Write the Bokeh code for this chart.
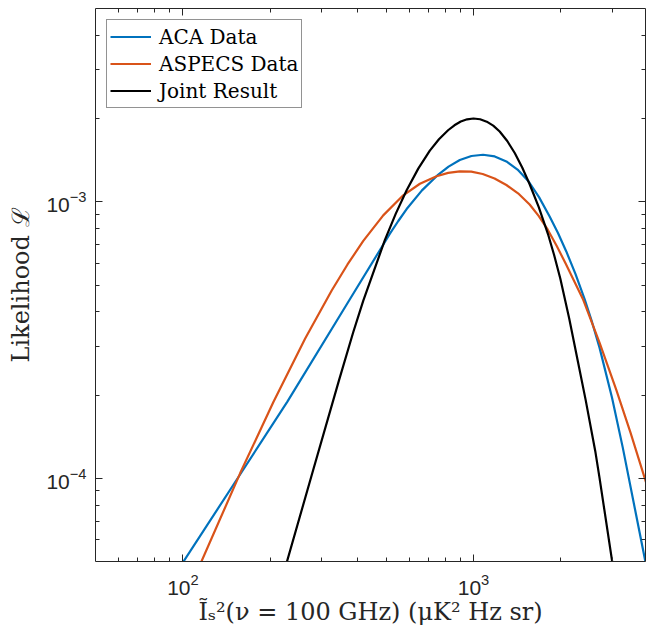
from bokeh.plotting import figure
from bokeh.models import LogAxis, FixedTicker, Range1d
from bokeh.embed import file_html
from bokeh.resources import INLINE

# ---- data ----
aca_x = [99.7, 157.3, 228.8, 371.4, 515.7, 551.1, 588.8, 664.9, 751, 820.9,
         897.4, 984.0, 1079, 1183.6, 1298, 1418, 1549, 1683, 1829, 1954,
         2087, 2244, 2413, 2560, 2716, 2999, 3267, 3632, 3910]
aca_y = [4.94e-5, 1.032e-4, 1.894e-4, 4.357e-4, 7.663e-4, 8.52e-4, 9.415e-4,
         1.0996e-3, 1.2453e-3, 1.3397e-3, 1.4152e-3, 1.4639e-3, 1.4791e-3,
         1.4592e-3, 1.3996e-3, 1.3080e-3, 1.1837e-3, 1.0370e-3, 8.846e-4,
         7.709e-4, 6.613e-4, 5.483e-4, 4.442e-4, 3.668e-4, 2.968e-4,
         1.956e-4, 1.288e-4, 7.35e-5, 4.97e-5]

aspecs_x = [114.8, 157.3, 204.8, 263.2, 325.1, 368.5, 417.6, 489.1, 573.1,
            654.1, 746.4, 818.4, 897.4, 982.7, 1076, 1182, 1298, 1424, 1561,
            1676, 1800, 1933, 2076, 2380, 2716, 3100, 3472, 3910, 3950]
aspecs_y = [4.90e-5, 1.042e-4, 1.888e-4, 3.197e-4, 4.775e-4, 5.933e-4,
            7.219e-4, 8.929e-4, 1.0554e-3, 1.1619e-3, 1.2372e-3, 1.2721e-3,
            1.2883e-3, 1.2845e-3, 1.2604e-3, 1.2146e-3, 1.1497e-3, 1.0728e-3,
            9.779e-4, 8.892e-4, 7.939e-4, 6.934e-4, 5.978e-4, 4.451e-4,
            3.096e-4, 2.093e-4, 1.462e-4, 9.80e-5, 9.47e-5]

joint_x = [227.8, 280.4, 344.4, 385.8, 417.6, 495.7, 540.3, 588.8, 645.6,
           707.6, 760.7, 817.6, 859.9, 904.3, 951.0, 1000, 1054.1, 1111,
           1169.5, 1231, 1307.0, 1387, 1471.6, 1561, 1678, 1804, 1895, 1991,
           2135, 2288, 2432, 2626, 2716, 3005]
joint_y = [4.975e-5, 1.067e-4, 2.260e-4, 3.379e-4, 4.388e-4, 7.278e-4,
           9.062e-4, 1.1005e-3, 1.3180e-3, 1.5316e-3, 1.6834e-3, 1.8141e-3,
           1.8909e-3, 1.9505e-3, 1.9868e-3, 2.0e-3, 1.9880e-3, 1.9482e-3,
           1.8843e-3, 1.7944e-3, 1.6589e-3, 1.5007e-3, 1.3296e-3, 1.1569e-3,
           9.570e-4, 7.659e-4, 6.418e-4, 5.263e-4, 3.789e-4, 2.645e-4,
           1.925e-4, 1.253e-4, 1.0037e-4, 4.97e-5]

series_labels = ["ACA Data", "ASPECS Data", "Joint Result"]
series_colors = ["#0072BD", "#D95319", "#000000"]

x_range = (50, 3910)
y_range = (5e-5, 5e-3)
x_major = [100, 1000]
x_minor = [60, 70, 80, 90, 200, 300, 400, 500, 600, 700, 800, 900, 2000, 3000]
y_major = [1e-4, 1e-3]
y_minor = [6e-5, 7e-5, 8e-5, 9e-5, 2e-4, 3e-4, 4e-4, 5e-4, 6e-4, 7e-4, 8e-4,
           9e-4, 2e-3, 3e-3, 4e-3]

x_label = "Ĩₛ²(ν = 100 GHz) (μK² Hz sr)"
y_label = "Likelihood ℒ"

AX = "#262626"

p = figure(x_axis_type="log", y_axis_type="log",
           x_range=Range1d(*x_range), y_range=Range1d(*y_range),
           frame_width=550, frame_height=553,
           min_border_left=95, min_border_right=1, min_border_top=8,
           min_border_bottom=66,
           output_backend="svg", toolbar_location=None)
p.xgrid.visible = False
p.ygrid.visible = False
p.outline_line_color = None
p.background_fill_color = "white"
p.border_fill_color = "white"

for xs, ys, lab, col in zip([aca_x, aspecs_x, joint_x], [aca_y, aspecs_y, joint_y],
                            series_labels, series_colors):
    p.line(xs, ys, line_color=col, line_width=2.2, legend_label=lab,
           line_join="round")

xt = FixedTicker(ticks=x_major, minor_ticks=x_minor)
yt = FixedTicker(ticks=y_major, minor_ticks=y_minor)


def style(ax, labels=True):
    ax.axis_line_color = AX
    ax.axis_line_width = 1
    ax.major_tick_line_color = AX
    ax.minor_tick_line_color = AX
    ax.major_tick_in = 7
    ax.major_tick_out = 0
    ax.minor_tick_in = 4
    ax.minor_tick_out = 0
    if labels:
        ax.major_label_text_font = "Liberation Sans"
        ax.major_label_text_font_size = "21px"
        ax.major_label_text_color = AX
        ax.axis_label_text_font = "DejaVu Serif"
        ax.axis_label_text_font_size = "24px"
        ax.axis_label_text_font_style = "normal"
        ax.axis_label_text_color = AX
    else:
        ax.major_label_text_font_size = "1px"
        ax.major_label_text_alpha = 0.0
        ax.major_label_standoff = 0


p.xaxis.ticker = xt
p.yaxis.ticker = yt
style(p.xaxis[0])
style(p.yaxis[0])
p.xaxis[0].axis_label = x_label
p.yaxis[0].axis_label = y_label
p.xaxis[0].major_label_standoff = 12
p.xaxis[0].axis_label_standoff = 0
p.yaxis[0].major_label_standoff = 9
p.yaxis[0].axis_label_standoff = 8

top = LogAxis(ticker=xt)
style(top, labels=False)
p.add_layout(top, "above")
right = LogAxis(ticker=yt)
style(right, labels=False)
p.add_layout(right, "right")

lg = p.legend[0]
lg.location = "top_left"
lg.margin = 11
lg.padding = 3
lg.spacing = 0
lg.glyph_width = 41
lg.glyph_height = 27
lg.label_height = 27
lg.label_standoff = 8
lg.label_text_font = "DejaVu Serif"
lg.label_text_font_size = "20px"
lg.label_text_color = "#000000"
lg.border_line_color = AX
lg.border_line_width = 1
lg.background_fill_alpha = 1.0

open("out.html", "w").write(file_html(p, INLINE))
